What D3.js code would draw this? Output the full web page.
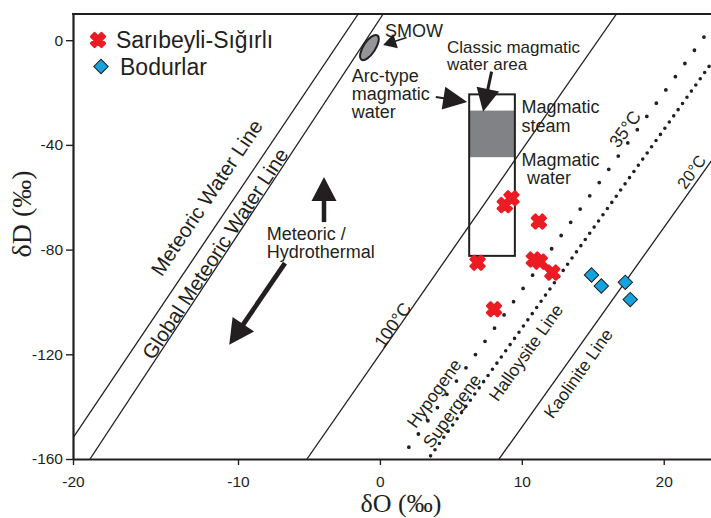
<!DOCTYPE html>
<html><head><meta charset="utf-8">
<script src="https://cdn.jsdelivr.net/npm/d3@7"></script>
<style>body{margin:0;background:#fff}svg{display:block}</style>
</head><body>
<svg id="c" width="711" height="518"></svg>
<script>
// ---------- data ----------
const xTicks = [-20, -10, 0, 10, 20];
const yTicks = [0, -40, -80, -120, -160];

const seriesNames = ["Sarıbeyli-Sığırlı", "Bodurlar"];
const sariO = [9.27, 8.80, 11.20, 6.88, 10.85, 11.27, 12.15, 8.04];
const sariD = [-60.4, -63.0, -69.3, -85.0, -83.8, -84.6, -88.8, -102.8];
const boduO = [14.91, 15.60, 17.29, 17.64];
const boduD = [-89.7, -93.9, -92.5, -99.1];

// reference lines (start / end in δO, δD)
const lineNames = ["Meteoric Water Line", "Global Meteoric Water Line", "100°C", "Hypogene/Supergene", "Halloysite Line", "Kaolinite Line"];
const lineO1 = [-20, -18.97, -5.14, 2.04, 3.57, 8.40];
const lineD1 = [-151.9, -160, -160, -155.5, -158.8, -160];
const lineO2 = [-1.53, 0.23, 16.67, 24, 24, 24];
const lineD2 = [10, 10, 10, 10, -3.9, -41.2];

// labels along lines
const lblText = ["Meteoric Water Line", "Global Meteoric Water Line", "100°C", "35°C", "20°C", "Kaolinite Line", "Halloysite Line", "Supergene", "Hypogene"];
const lblO = [-11.91, -11.39, 0.88, 17.25, 21.95, 13.96, 10.27, 5.06, 3.80];
const lblD = [-60.1, -81.5, -108.8, -33.9, -50.3, -127.3, -119.3, -141.6, -134.9];
const lblLine = [0, 1, 2, 3, 5, 5, 4, 3, 3];

// magmatic water box
const boxO = [6.29, 9.51];
const boxD = [-20.7, -82.4];
const steamD = [-26.9, -44.7];
const smowO = -0.74, smowD = -2.8;

// annotation texts
const annText = ["SMOW", "Classic magmatic", "water area", "Arc-type", "magmatic", "water", "Magmatic", "steam", "Magmatic", "water", "Meteoric /", "Hydrothermal"];
const annO = [0.35, 4.72, 4.72, -1.99, -1.99, -1.99, 9.98, 9.98, 9.98, 10.37, -7.98, -7.98];
const annD = [1.4, -4.8, -11.4, -15.9, -22.9, -29.8, -27.9, -35.0, -48.1, -55.1, -76.3, -83.2];

// arrows (tail -> tip)
const arrTailO = [-3.94, -6.69, 1.88, 3.94, 7.87];
const arrTailD = [-69.5, -85.2, 1.0, -21.7, -12.0];
const arrTipO = [-3.94, -10.53, 0.23, 6.15, 7.27];
const arrTipD = [-52.3, -116.4, -1.84, -23.6, -27.3];

// ---------- drawing ----------
const ink = "#231f20";
const sans = "Arial, 'Liberation Sans', Helvetica, sans-serif";
const svg = d3.select("#c");

const x = d3.scaleLinear().domain([-20, -10, 23.33]).range([73, 238, 711]);
const y = d3.scaleLinear().domain([10, -160]).range([14, 459]);
const X0 = x(-20), X1 = x(23.33), Y0 = y(10), Y1 = y(-160);

svg.append("defs").append("clipPath").attr("id", "clip").append("rect")
  .attr("x", X0).attr("y", Y0).attr("width", X1 - X0).attr("height", Y1 - Y0);
const plot = svg.append("g").attr("clip-path", "url(#clip)");

// gray steam band
plot.append("rect")
  .attr("x", x(boxO[0])).attr("y", y(steamD[0]))
  .attr("width", x(boxO[1]) - x(boxO[0])).attr("height", y(steamD[1]) - y(steamD[0]))
  .attr("fill", "#808285");

// lines
const lineGen = d3.line().x(d => x(d[0])).y(d => y(d[1]));
lineNames.forEach((n, i) => {
  const p = plot.append("path")
    .attr("d", lineGen([[lineO1[i], lineD1[i]], [lineO2[i], lineD2[i]]]))
    .attr("fill", "none").attr("stroke", ink);
  if (i === 3) p.attr("stroke-width", 3.8).attr("stroke-dasharray", "0,16.3").attr("stroke-linecap", "round");
  else if (i === 4) p.attr("stroke-width", 3.6).attr("stroke-dasharray", "0,7.6").attr("stroke-linecap", "round");
  else p.attr("stroke-width", 1.3);
});

// box outline
plot.append("rect")
  .attr("x", x(boxO[0])).attr("y", y(boxD[0]))
  .attr("width", x(boxO[1]) - x(boxO[0])).attr("height", y(boxD[1]) - y(boxD[0]))
  .attr("fill", "none").attr("stroke", ink).attr("stroke-width", 2);

// SMOW ellipse
plot.append("ellipse")
  .attr("transform", `translate(${x(smowO)},${y(smowD)}) rotate(-57)`)
  .attr("rx", 14.5).attr("ry", 6).attr("fill", "#939598").attr("stroke", ink).attr("stroke-width", 2);

// line labels
lblText.forEach((t, i) => {
  const li = lblLine[i];
  const ang = Math.atan2(y(lineD2[li]) - y(lineD1[li]), x(lineO2[li]) - x(lineO1[li])) * 180 / Math.PI;
  const fs = i < 2 ? 20.5 : (i === 4 ? 16.5 : (t.indexOf("°C") >= 0 ? 18 : 17.5));
  svg.append("text")
    .attr("transform", `translate(${x(lblO[i])},${y(lblD[i])}) rotate(${ang})`)
    .attr("text-anchor", "middle").attr("dy", "0.36em")
    .style("font-family", sans).style("font-size", fs + "px").attr("fill", ink)
    .text(t);
});

// annotation texts
annText.forEach((t, i) => {
  const fs = (i === 1 || i === 2) ? 17 : 18;
  svg.append("text").attr("x", x(annO[i])).attr("y", y(annD[i]))
    .style("font-family", sans).style("font-size", fs + "px").attr("fill", ink).text(t);
});

// arrows
const arrStyle = [
  {hl: 24, hw: 25, sw: 4.5},
  {hl: 25, hw: 26, sw: 4.8},
  {hl: 13, hw: 15, sw: 1.5},
  {hl: 24, hw: 23, sw: 2},
  {hl: 23, hw: 23, sw: 3}
];
arrTailO.forEach((o, i) => {
  const tx = x(o), ty = y(arrTailD[i]), px = x(arrTipO[i]), py = y(arrTipD[i]);
  const s = arrStyle[i];
  const L = Math.hypot(px - tx, py - ty), ux = (px - tx) / L, uy = (py - ty) / L;
  const bx = px - ux * s.hl, by = py - uy * s.hl;
  const nx = -uy, ny = ux;
  svg.append("line").attr("x1", tx).attr("y1", ty).attr("x2", bx + ux * 2).attr("y2", by + uy * 2)
    .attr("stroke", ink).attr("stroke-width", s.sw);
  svg.append("path")
    .attr("d", `M${px},${py}L${bx + nx * s.hw / 2},${by + ny * s.hw / 2}L${bx - nx * s.hw / 2},${by - ny * s.hw / 2}Z`)
    .attr("fill", ink);
});

// points
const redSym = d3.symbol().type(d3.symbolCross).size(118);
const blueSym = d3.symbol().type(d3.symbolSquare).size(104);
const red = "#ec1c24", blue = "#14a3de";
sariO.forEach((o, i) => {
  svg.append("path").attr("d", redSym())
    .attr("transform", `translate(${x(o)},${y(sariD[i])}) rotate(45)`)
    .attr("fill", red).attr("stroke", red).attr("stroke-width", 2.6).attr("stroke-linejoin", "round");
});
boduO.forEach((o, i) => {
  svg.append("path").attr("d", blueSym())
    .attr("transform", `translate(${x(o)},${y(boduD[i])}) rotate(45)`)
    .attr("fill", blue).attr("stroke", ink).attr("stroke-width", 1);
});

// axes
const fmt = d => String(d);
const gx = svg.append("g").attr("transform", `translate(0,${Y1})`)
  .call(d3.axisBottom(x).tickValues(xTicks).tickFormat(fmt).tickSize(6).tickPadding(11).tickSizeOuter(0));
const gy = svg.append("g").attr("transform", `translate(${X0},0)`)
  .call(d3.axisLeft(y).tickValues(yTicks).tickFormat(fmt).tickSize(7).tickPadding(3).tickSizeOuter(0));
[gx, gy].forEach(g => {
  g.select(".domain").attr("stroke", ink).attr("stroke-width", 2.2);
  g.selectAll(".tick line").attr("stroke", ink).attr("stroke-width", 1.4);
  g.selectAll(".tick text").attr("fill", ink).style("font-family", sans).style("font-size", "15.5px");
});
// top border
svg.append("line").attr("x1", X0 - 1).attr("x2", X1).attr("y1", Y0).attr("y2", Y0)
  .attr("stroke", ink).attr("stroke-width", 2.2);

// axis titles
const serif = "'Times New Roman', 'Liberation Serif', Times, serif";
svg.append("text").attr("x", 401).attr("y", 512).attr("text-anchor", "middle")
  .style("font-family", serif).style("font-size", "26px").attr("fill", ink).text("δO (‰)");
svg.append("text").attr("transform", "translate(31,214) rotate(-90)").attr("text-anchor", "middle")
  .style("font-family", serif).style("font-size", "28px").attr("fill", ink).text("δD (‰)");

// legend
svg.append("path").attr("d", redSym()).attr("transform", "translate(98,40) rotate(45)")
  .attr("fill", red).attr("stroke", red).attr("stroke-width", 2.6).attr("stroke-linejoin", "round");
svg.append("text").attr("x", 116).attr("y", 48).style("font-family", sans).style("font-size", "23px")
  .attr("fill", ink).text(seriesNames[0]);
svg.append("path").attr("d", blueSym()).attr("transform", "translate(101,66.5) rotate(45)")
  .attr("fill", blue).attr("stroke", ink).attr("stroke-width", 1);
svg.append("text").attr("x", 120).attr("y", 75).style("font-family", sans).style("font-size", "23px")
  .attr("fill", ink).text(seriesNames[1]);
</script>
</body></html>
